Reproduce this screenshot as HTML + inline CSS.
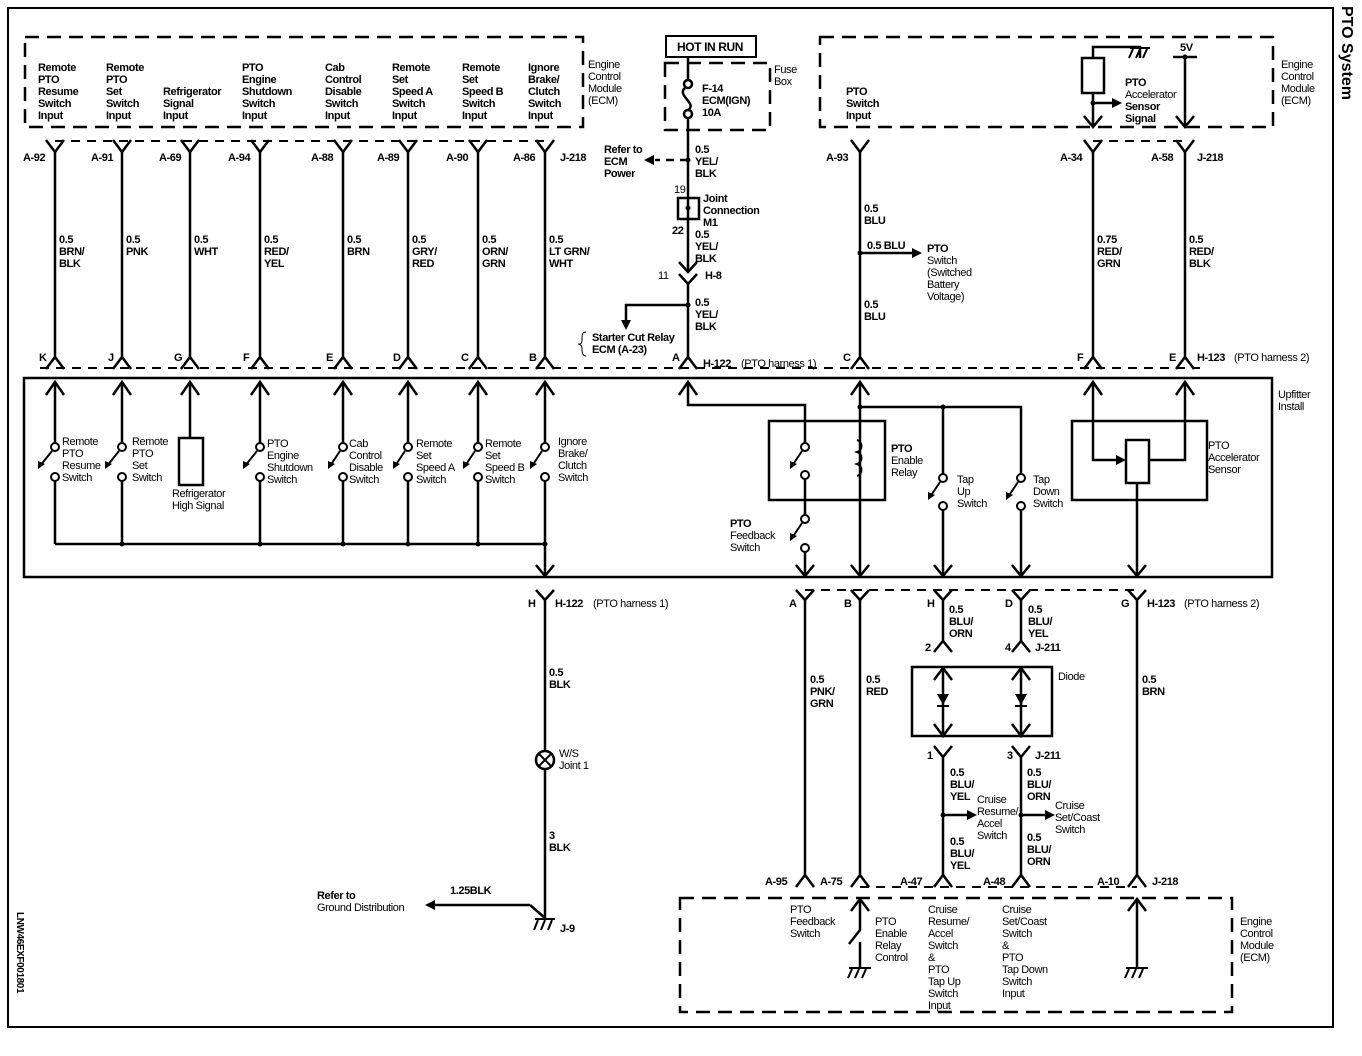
<!DOCTYPE html>
<html><head><meta charset="utf-8"><style>
html,body{margin:0;padding:0;background:#fff}
svg{display:block}
text{font-family:"Liberation Sans",Arial,sans-serif;font-size:11px;font-weight:bold;fill:#000;letter-spacing:-0.4px}
.t{font-weight:normal}
</style></head><body>
<svg width="1362" height="1056" viewBox="0 0 1362 1056" xmlns="http://www.w3.org/2000/svg">
<g fill="none" stroke="#000" stroke-width="2.5">
<rect x="8" y="8" width="1325" height="1019" stroke-width="2"/>
<rect x="25" y="37" width="558" height="90" stroke-dasharray="14,8"/>
<rect x="665" y="63" width="105" height="67" stroke-dasharray="14,8"/>
<rect x="820" y="37" width="453" height="90" stroke-dasharray="14,8"/>
<rect x="680" y="898" width="552" height="114" stroke-dasharray="14,8"/>
<rect x="666" y="36" width="90" height="21" stroke-width="2"/>
<path d="M55 141H545 M1093 141H1185 M40 368H1200 M805 590H1137 M860 887H1137" stroke-dasharray="9,7" stroke-width="2"/>
<rect x="24" y="378" width="1248" height="199" stroke-width="2.5"/>
<rect x="769" y="421" width="116" height="79" stroke-width="2.5"/>
<rect x="1072" y="421" width="135" height="79" stroke-width="2.5"/>
<rect x="179" y="438" width="24" height="47" stroke-width="2.5"/>
<rect x="1126" y="440" width="23" height="43" stroke-width="2.5"/>
<rect x="912" y="667" width="140" height="69" stroke-width="2.5"/>
<rect x="678" y="198" width="21" height="21" stroke-width="2.5"/>
<rect x="1082" y="58" width="22" height="35" stroke-width="2.5"/>

<path d="M46 140L55 152L64 140 M113 140L122 152L131 140 M181 140L190 152L199 140 M251 140L260 152L269 140 M334 140L343 152L352 140 M399 140L408 152L417 140 M469 140L478 152L487 140 M536 140L545 152L554 140 M851 140L860 152L869 140 M1084 140L1093 152L1102 140 M1176 140L1185 152L1194 140"/>
<path d="M1084 116L1093 127L1102 116 M1176 116L1185 127L1194 116"/>
<path d="M46 369L55 357L64 369 M113 369L122 357L131 369 M181 369L190 357L199 369 M251 369L260 357L269 369 M334 369L343 357L352 369 M399 369L408 357L417 369 M469 369L478 357L487 369 M536 369L545 357L554 369 M679 369L688 357L697 369 M851 369L860 357L869 369 M1084 369L1093 357L1102 369 M1176 369L1185 357L1194 369"/>
<path d="M55 152V357 M122 152V357 M190 152V357 M260 152V357 M343 152V357 M408 152V357 M478 152V357 M545 152V357 M860 152V357 M1093 152V357 M1185 152V357"/>
<path d="M688 57V80 M688 118V272 M688 284V357"/>
<circle cx="688" cy="84" r="4"/><circle cx="688" cy="114" r="4"/>
<path d="M685 88C676 95 698 104 688 110" />
<path d="M679 262L688 272L697 262 M679 274L688 284L697 274" />
<path d="M688 160H655" stroke-dasharray="8,6"/>
<path d="M688 305H626V322"/>
<path d="M586 332c-4 0-4 3-4 8s-3 4-4 4c1 0 4 1 4 4s0 8 4 8" stroke-width="1"/>
<path d="M1093 58V47H1140V58 M1093 93V127 M1093 103H1115 M1173 57H1197 M1185 57V127 M860 253H915"/>
<path d="M46 395L55 382L64 395 M113 395L122 382L131 395 M181 395L190 382L199 395 M251 395L260 382L269 395 M334 395L343 382L352 395 M399 395L408 382L417 395 M469 395L478 382L487 395 M536 395L545 382L554 395 M679 395L688 382L697 395 M851 395L860 382L869 395 M1084 395L1093 382L1102 395 M1176 395L1185 382L1194 395"/>
<path d="M55 382V443 M55 481V544 M122 382V443 M122 481V544 M190 382V438 M260 382V443 M260 481V544 M343 382V443 M343 481V544 M408 382V443 M408 481V544 M478 382V443 M478 481V544 M545 382V443 M545 481V576 M55 544H545"/>
<path d="M536 565L545 576L554 565"/>
<g stroke-width="2">
<circle cx="55" cy="447" r="4"/><circle cx="55" cy="477" r="4"/>
<circle cx="122" cy="447" r="4"/><circle cx="122" cy="477" r="4"/>
<circle cx="260" cy="447" r="4"/><circle cx="260" cy="477" r="4"/>
<circle cx="343" cy="447" r="4"/><circle cx="343" cy="477" r="4"/>
<circle cx="408" cy="447" r="4"/><circle cx="408" cy="477" r="4"/>
<circle cx="478" cy="447" r="4"/><circle cx="478" cy="477" r="4"/>
<circle cx="545" cy="447" r="4"/><circle cx="545" cy="477" r="4"/>
<circle cx="805" cy="447" r="4"/><circle cx="805" cy="475" r="4"/>
<circle cx="805" cy="519" r="4"/><circle cx="805" cy="548" r="4"/>
<circle cx="943" cy="478" r="4"/><circle cx="943" cy="506" r="4"/>
<circle cx="1021" cy="478" r="4"/><circle cx="1021" cy="506" r="4"/>
</g>
<path d="M52 451L40 466 M119 451L107 466 M257 451L245 466 M340 451L330 466 M405 451L395 466 M475 451L465 466 M542 451L532 466 M802 451L792 466 M802 523L792 538 M940 482L930 497 M1018 482L1008 497" stroke-width="2"/>
<path d="M688 382V405H805V443 M805 479V515 M805 552V576 M860 382V576 M860 407H1021V474 M943 407V474 M943 510V576 M1021 510V576 M1093 382V460H1120 M1185 382V460H1149 M1137 483V576"/>
<path d="M857 440c6 2 6 10 0 12c6 2 6 10 0 12c6 2 6 10 0 12" stroke-width="2"/>
<path d="M796 565L805 576L814 565 M851 565L860 576L869 565 M934 565L943 576L952 565 M1012 565L1021 576L1030 565 M1128 565L1137 576L1146 565"/>
<path d="M536 590L545 600L554 590 M796 590L805 600L814 590 M851 590L860 600L869 590 M934 590L943 600L952 590 M1012 590L1021 600L1030 590 M1128 590L1137 600L1146 590"/>
<path d="M934 652L943 641L952 652 M1012 652L1021 641L1030 652 M934 746L943 757L952 746 M1012 746L1021 757L1030 746"/>
<path d="M545 600V751 M545 769V918 M805 600V875 M860 600V875 M943 600V641 M1021 600V641 M943 757V875 M1021 757V875 M1137 600V875 M943 815H970 M1021 815H1048 M530 905H435 M530 905L545 918"/>
<path d="M934 680L943 668L952 680 M1012 680L1021 668L1030 680 M943 668V736 M1021 668V736 M934 724L943 736L952 724 M1012 724L1021 736L1030 724"/>
<circle cx="545" cy="760" r="9"/>
<path d="M539 754L551 766 M551 754L539 766" stroke-width="2"/>
<path d="M796 887L805 875L814 887 M851 887L860 875L869 887 M934 887L943 875L952 887 M1012 887L1021 875L1030 887 M1128 887L1137 875L1146 887"/>
<path d="M851 911L860 899L869 911 M860 899V930L849 944 M860 942V967 M1128 911L1137 899L1146 911 M1137 899V967"/>
<path d="M1130 48H1150 M1133 49L1129 58 M1140 49L1136 58 M1147 49L1143 58" stroke-width="2"/>
<path d="M849 968H871 M852 969L848 978 M859 969L855 978 M866 969L862 978" stroke-width="2"/>
<path d="M1126 968H1148 M1129 969L1125 978 M1136 969L1132 978 M1143 969L1139 978" stroke-width="2"/>
<path d="M535 919H555 M538 920L534 930 M545 920L541 930 M552 920L548 930" stroke-width="2"/>
</g>
<g fill="#000" stroke="none">
<circle cx="688" cy="160" r="2.5"/><circle cx="688" cy="208" r="2.5"/><circle cx="688" cy="305" r="2.5"/>
<circle cx="860" cy="253" r="2.5"/><circle cx="1093" cy="103" r="2.5"/><circle cx="1185" cy="57" r="2.5"/>
<circle cx="122" cy="544" r="2.5"/><circle cx="260" cy="544" r="2.5"/><circle cx="343" cy="544" r="2.5"/><circle cx="408" cy="544" r="2.5"/><circle cx="478" cy="544" r="2.5"/><circle cx="545" cy="544" r="2.5"/>
<circle cx="860" cy="407" r="2.5"/><circle cx="943" cy="407" r="2.5"/>
<circle cx="943" cy="815" r="2.5"/><circle cx="1021" cy="815" r="2.5"/>
<polygon points="644,160 654,155 654,165"/>
<polygon points="626,330 621,320 631,320"/>
<polygon points="922,253 912,248 912,258"/>
<polygon points="1122,103 1112,98 1112,108"/>
<polygon points="1126,460 1116,455 1116,465"/>
<polygon points="977,815 967,810 967,820"/>
<polygon points="1055,815 1045,810 1045,820"/>
<polygon points="425,905 435,900 435,910"/>
<polygon points="38,469 38,461 45,464"/><polygon points="105,469 105,461 112,464"/><polygon points="243,469 243,461 250,464"/><polygon points="328,469 328,461 335,464"/><polygon points="393,469 393,461 400,464"/><polygon points="463,469 463,461 470,464"/><polygon points="530,469 530,461 537,464"/><polygon points="790,469 790,461 797,464"/><polygon points="790,541 790,533 797,536"/><polygon points="928,500 928,492 935,495"/><polygon points="1006,500 1006,492 1013,495"/>
<polygon points="937,694 949,694 943,705"/><rect x="937" y="705" width="12" height="2"/>
<polygon points="1015,694 1027,694 1021,705"/><rect x="1015" y="705" width="12" height="2"/>
</g>

<g>
<text x="38" y="71">Remote</text><text x="38" y="83">PTO</text><text x="38" y="95">Resume</text><text x="38" y="107">Switch</text><text x="38" y="119">Input</text>
<text x="106" y="71">Remote</text><text x="106" y="83">PTO</text><text x="106" y="95">Set</text><text x="106" y="107">Switch</text><text x="106" y="119">Input</text>
<text x="163" y="95">Refrigerator</text><text x="163" y="107">Signal</text><text x="163" y="119">Input</text>
<text x="242" y="71">PTO</text><text x="242" y="83">Engine</text><text x="242" y="95">Shutdown</text><text x="242" y="107">Switch</text><text x="242" y="119">Input</text>
<text x="325" y="71">Cab</text><text x="325" y="83">Control</text><text x="325" y="95">Disable</text><text x="325" y="107">Switch</text><text x="325" y="119">Input</text>
<text x="392" y="71">Remote</text><text x="392" y="83">Set</text><text x="392" y="95">Speed A</text><text x="392" y="107">Switch</text><text x="392" y="119">Input</text>
<text x="462" y="71">Remote</text><text x="462" y="83">Set</text><text x="462" y="95">Speed B</text><text x="462" y="107">Switch</text><text x="462" y="119">Input</text>
<text x="528" y="71">Ignore</text><text x="528" y="83">Brake/</text><text x="528" y="95">Clutch</text><text x="528" y="107">Switch</text><text x="528" y="119">Input</text>
<text class="t" x="588" y="68">Engine</text><text class="t" x="588" y="80">Control</text><text class="t" x="588" y="92">Module</text><text class="t" x="588" y="104">(ECM)</text>

<text x="23" y="161">A-92</text><text x="91" y="161">A-91</text><text x="159" y="161">A-69</text><text x="228" y="161">A-94</text><text x="311" y="161">A-88</text><text x="377" y="161">A-89</text><text x="446" y="161">A-90</text><text x="513" y="161">A-86</text><text x="560" y="161">J-218</text>
<text x="59" y="243">0.5</text><text x="59" y="255">BRN/</text><text x="59" y="267">BLK</text>
<text x="126" y="243">0.5</text><text x="126" y="255">PNK</text>
<text x="194" y="243">0.5</text><text x="194" y="255">WHT</text>
<text x="264" y="243">0.5</text><text x="264" y="255">RED/</text><text x="264" y="267">YEL</text>
<text x="347" y="243">0.5</text><text x="347" y="255">BRN</text>
<text x="412" y="243">0.5</text><text x="412" y="255">GRY/</text><text x="412" y="267">RED</text>
<text x="482" y="243">0.5</text><text x="482" y="255">ORN/</text><text x="482" y="267">GRN</text>
<text x="549" y="243">0.5</text><text x="549" y="255">LT GRN/</text><text x="549" y="267">WHT</text>
<text x="39" y="361">K</text><text x="108" y="361">J</text><text x="174" y="361">G</text><text x="243" y="361">F</text><text x="326" y="361">E</text><text x="393" y="361">D</text><text x="461" y="361">C</text><text x="529" y="361">B</text><text x="672" y="361">A</text>
<text x="703" y="367">H-122</text><text x="741" y="367" class="t">(PTO harness 1)</text>

<text x="677" y="51" style="font-size:12px">HOT IN RUN</text>
<text class="t" x="774" y="73">Fuse</text><text class="t" x="774" y="85">Box</text>
<text x="702" y="92">F-14</text><text x="702" y="104">ECM(IGN)</text><text x="702" y="116">10A</text>
<text x="604" y="153">Refer to</text><text x="604" y="165">ECM</text><text x="604" y="177">Power</text>
<text x="695" y="153">0.5</text><text x="695" y="165">YEL/</text><text x="695" y="177">BLK</text>
<text x="674" y="193" class="t">19</text><text x="672" y="234">22</text>
<text x="703" y="202">Joint</text><text x="703" y="214">Connection</text><text x="703" y="226">M1</text>
<text x="695" y="238">0.5</text><text x="695" y="250">YEL/</text><text x="695" y="262">BLK</text>
<text x="658" y="279" class="t">11</text><text x="705" y="279">H-8</text>
<text x="695" y="306">0.5</text><text x="695" y="318">YEL/</text><text x="695" y="330">BLK</text>
<text x="592" y="341">Starter Cut Relay</text><text x="592" y="353">ECM (A-23)</text>

<text x="846" y="95">PTO</text><text x="846" y="107">Switch</text><text x="846" y="119">Input</text>
<text x="1125" y="86">PTO</text><text x="1125" y="98" class="t">Accelerator</text><text x="1125" y="110">Sensor</text><text x="1125" y="122">Signal</text>
<text x="1180" y="51">5V</text>
<text class="t" x="1281" y="68">Engine</text><text class="t" x="1281" y="80">Control</text><text class="t" x="1281" y="92">Module</text><text class="t" x="1281" y="104">(ECM)</text>
<text x="826" y="161">A-93</text><text x="1060" y="161">A-34</text><text x="1151" y="161">A-58</text><text x="1197" y="161">J-218</text>
<text x="864" y="212">0.5</text><text x="864" y="224">BLU</text>
<text x="867" y="249">0.5 BLU</text>
<text x="927" y="252">PTO</text><text x="927" y="264" class="t">Switch</text><text x="927" y="276" class="t">(Switched</text><text x="927" y="288" class="t">Battery</text><text x="927" y="300" class="t">Voltage)</text>
<text x="864" y="308">0.5</text><text x="864" y="320">BLU</text>
<text x="1097" y="243">0.75</text><text x="1097" y="255">RED/</text><text x="1097" y="267">GRN</text>
<text x="1189" y="243">0.5</text><text x="1189" y="255">RED/</text><text x="1189" y="267">BLK</text>
<text x="843" y="361">C</text><text x="1077" y="361">F</text><text x="1169" y="361">E</text>
<text x="1197" y="361">H-123</text><text x="1234" y="361" class="t">(PTO harness 2)</text>

<text class="t" x="62" y="445">Remote</text><text class="t" x="62" y="457">PTO</text><text class="t" x="62" y="469">Resume</text><text class="t" x="62" y="481">Switch</text>
<text class="t" x="132" y="445">Remote</text><text class="t" x="132" y="457">PTO</text><text class="t" x="132" y="469">Set</text><text class="t" x="132" y="481">Switch</text>
<text class="t" x="172" y="497">Refrigerator</text><text class="t" x="172" y="509">High Signal</text>
<text class="t" x="267" y="447">PTO</text><text class="t" x="267" y="459">Engine</text><text class="t" x="267" y="471">Shutdown</text><text class="t" x="267" y="483">Switch</text>
<text class="t" x="349" y="447">Cab</text><text class="t" x="349" y="459">Control</text><text class="t" x="349" y="471">Disable</text><text class="t" x="349" y="483">Switch</text>
<text class="t" x="416" y="447">Remote</text><text class="t" x="416" y="459">Set</text><text class="t" x="416" y="471">Speed A</text><text class="t" x="416" y="483">Switch</text>
<text class="t" x="485" y="447">Remote</text><text class="t" x="485" y="459">Set</text><text class="t" x="485" y="471">Speed B</text><text class="t" x="485" y="483">Switch</text>
<text class="t" x="558" y="445">Ignore</text><text class="t" x="558" y="457">Brake/</text><text class="t" x="558" y="469">Clutch</text><text class="t" x="558" y="481">Switch</text>
<text x="891" y="452">PTO</text><text class="t" x="891" y="464">Enable</text><text class="t" x="891" y="476">Relay</text>
<text x="730" y="527">PTO</text><text class="t" x="730" y="539">Feedback</text><text class="t" x="730" y="551">Switch</text>
<text class="t" x="957" y="483">Tap</text><text class="t" x="957" y="495">Up</text><text class="t" x="957" y="507">Switch</text>
<text class="t" x="1033" y="483">Tap</text><text class="t" x="1033" y="495">Down</text><text class="t" x="1033" y="507">Switch</text>
<text class="t" x="1208" y="449">PTO</text><text class="t" x="1208" y="461">Accelerator</text><text class="t" x="1208" y="473">Sensor</text>
<text class="t" x="1278" y="398">Upfitter</text><text class="t" x="1278" y="410">Install</text>

<text x="528" y="607">H</text><text x="555" y="607">H-122</text><text x="593" y="607" class="t">(PTO harness 1)</text>
<text x="789" y="607">A</text><text x="844" y="607">B</text><text x="927" y="607">H</text><text x="1005" y="607">D</text><text x="1121" y="607">G</text>
<text x="1147" y="607">H-123</text><text x="1184" y="607" class="t">(PTO harness 2)</text>
<text x="949" y="613">0.5</text><text x="949" y="625">BLU/</text><text x="949" y="637">ORN</text>
<text x="1028" y="613">0.5</text><text x="1028" y="625">BLU/</text><text x="1028" y="637">YEL</text>
<text x="925" y="651">2</text><text x="1005" y="651">4</text><text x="1035" y="651">J-211</text>
<text x="1058" y="680" class="t">Diode</text>
<text x="549" y="676">0.5</text><text x="549" y="688">BLK</text>
<text x="810" y="683">0.5</text><text x="810" y="695">PNK/</text><text x="810" y="707">GRN</text>
<text x="866" y="683">0.5</text><text x="866" y="695">RED</text>
<text x="1142" y="683">0.5</text><text x="1142" y="695">BRN</text>
<text x="559" y="757" class="t">W/S</text><text x="559" y="769" class="t">Joint 1</text>
<text x="927" y="759">1</text><text x="1007" y="759">3</text><text x="1035" y="759">J-211</text>
<text x="950" y="776">0.5</text><text x="950" y="788">BLU/</text><text x="950" y="800">YEL</text>
<text x="1027" y="776">0.5</text><text x="1027" y="788">BLU/</text><text x="1027" y="800">ORN</text>
<text x="977" y="803" class="t">Cruise</text><text x="977" y="815" class="t">Resume/</text><text x="977" y="827" class="t">Accel</text><text x="977" y="839" class="t">Switch</text>
<text x="1055" y="809" class="t">Cruise</text><text x="1055" y="821" class="t">Set/Coast</text><text x="1055" y="833" class="t">Switch</text>
<text x="950" y="845">0.5</text><text x="950" y="857">BLU/</text><text x="950" y="869">YEL</text>
<text x="1027" y="841">0.5</text><text x="1027" y="853">BLU/</text><text x="1027" y="865">ORN</text>
<text x="549" y="839">3</text><text x="549" y="851">BLK</text>
<text x="765" y="885">A-95</text><text x="820" y="885">A-75</text><text x="900" y="885">A-47</text><text x="983" y="885">A-48</text><text x="1097" y="885">A-10</text><text x="1152" y="885">J-218</text>
<text x="790" y="913" class="t">PTO</text><text x="790" y="925" class="t">Feedback</text><text x="790" y="937" class="t">Switch</text>
<text x="875" y="925" class="t">PTO</text><text x="875" y="937" class="t">Enable</text><text x="875" y="949" class="t">Relay</text><text x="875" y="961" class="t">Control</text>
<text x="928" y="913" class="t">Cruise</text><text x="928" y="925" class="t">Resume/</text><text x="928" y="937" class="t">Accel</text><text x="928" y="949" class="t">Switch</text><text x="928" y="961" class="t">&amp;</text><text x="928" y="973" class="t">PTO</text><text x="928" y="985" class="t">Tap Up</text><text x="928" y="997" class="t">Switch</text><text x="928" y="1009" class="t">Input</text>
<text x="1002" y="913" class="t">Cruise</text><text x="1002" y="925" class="t">Set/Coast</text><text x="1002" y="937" class="t">Switch</text><text x="1002" y="949" class="t">&amp;</text><text x="1002" y="961" class="t">PTO</text><text x="1002" y="973" class="t">Tap Down</text><text x="1002" y="985" class="t">Switch</text><text x="1002" y="997" class="t">Input</text>
<text x="1240" y="925" class="t">Engine</text><text x="1240" y="937" class="t">Control</text><text x="1240" y="949" class="t">Module</text><text x="1240" y="961" class="t">(ECM)</text>
<text x="317" y="899">Refer to</text><text x="317" y="911" class="t">Ground Distribution</text>
<text x="450" y="894">1.25BLK</text>
<text x="560" y="932">J-9</text>
<text transform="translate(17,912) rotate(90)" style="font-size:10px">LNW46EXF001801</text>
<text transform="translate(1342,6) rotate(90)" style="font-size:16px;letter-spacing:0">PTO System</text>
</g>
</svg>
</body></html>
